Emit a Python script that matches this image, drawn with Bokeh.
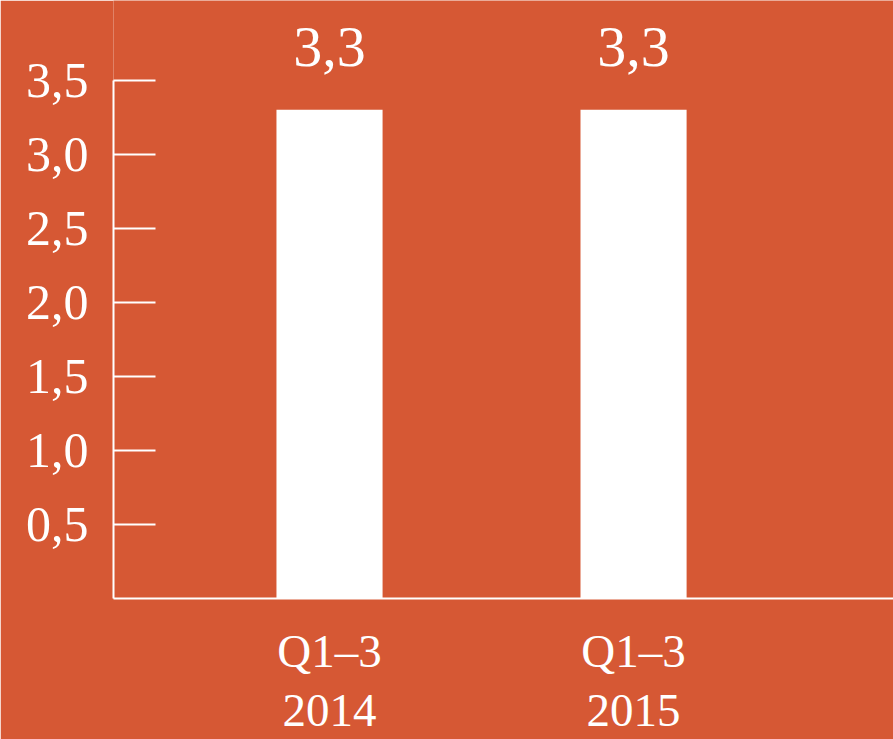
from bokeh.plotting import figure
from bokeh.models import Range1d, FixedTicker, ColumnDataSource
from bokeh.core.properties import value
from bokeh.embed import file_html
from bokeh.resources import INLINE

# ---- data ----
categories = ["Q1–3\n2014", "Q1–3\n2015"]
values = [3.3, 3.3]
value_labels = ["3,3", "3,3"]
y_ticks = [0.5, 1.0, 1.5, 2.0, 2.5, 3.0, 3.5]
y_tick_labels = ["0,5", "1,0", "1,5", "2,0", "2,5", "3,0", "3,5"]

BG = "#d65834"
FG = "#ffffff"
FONT = "Liberation Serif"

xs = list(range(1, len(categories) + 1))
src = ColumnDataSource(dict(x=xs, top=values, label=value_labels))

p = figure(width=893, height=739, output_backend="svg", toolbar_location=None,
           x_range=Range1d(0.2895, 2.855), y_range=Range1d(0, 4.037))
p.min_border_left = 113
p.min_border_right = 0
p.min_border_top = 0
p.min_border_bottom = 138
p.background_fill_color = BG
p.border_fill_color = BG
p.outline_line_color = None
p.xgrid.visible = False
p.ygrid.visible = False

p.vbar(x="x", top="top", bottom=0, width=0.349, source=src,
       fill_color=FG, line_color=None)
p.text(x="x", y="top", text="label", source=src, text_align="center",
       text_baseline="bottom", y_offset=-44, text_color=FG,
       text_font=value(FONT), text_font_size="58px")

# y axis
ya = p.yaxis[0]
ya.ticker = FixedTicker(ticks=y_ticks)
ya.major_label_overrides = {t: l for t, l in zip(y_ticks, y_tick_labels)}
ya.bounds = (0, 3.5)
ya.axis_line_color = FG
ya.axis_line_width = 2
ya.major_tick_line_color = FG
ya.major_tick_line_width = 2
ya.major_tick_in = 42
ya.major_tick_out = 0
ya.minor_tick_line_color = None
ya.major_label_standoff = 25
ya.major_label_text_color = FG
ya.major_label_text_font = FONT
ya.major_label_text_font_size = "50px"

# x axis
xa = p.xaxis[0]
xa.ticker = FixedTicker(ticks=xs)
xa.major_label_overrides = {x: c for x, c in zip(xs, categories)}
xa.axis_line_color = FG
xa.axis_line_width = 2
xa.major_tick_line_color = None
xa.minor_tick_line_color = None
xa.major_label_standoff = 20
xa.major_label_text_color = FG
xa.major_label_text_font = FONT
xa.major_label_text_font_size = "47px"
xa.major_label_text_line_height = 1.15

open("out.html", "w").write(file_html(p, INLINE))
